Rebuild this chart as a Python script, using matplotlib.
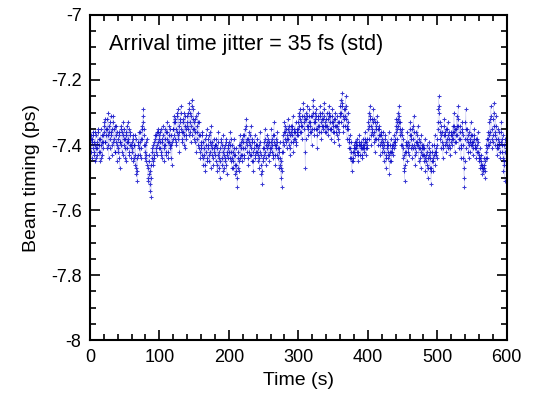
import numpy as np
import matplotlib.pyplot as plt
from matplotlib.ticker import MultipleLocator

plt.rcParams['font.family'] = ['Liberation Sans', 'DejaVu Sans']

# beam timing, samples on whole seconds (ps)
timing = [
    -7.40,-7.38,-7.42,-7.39,-7.41,-7.37,-7.43,-7.40,-7.36,-7.44,-7.39,-7.41,-7.35,-7.42,-7.45,-7.38,-7.40,-7.37,-7.43,-7.39,
    -7.36,-7.33,-7.39,-7.35,-7.41,-7.32,-7.37,-7.44,-7.34,-7.38,-7.31,-7.36,-7.40,-7.33,-7.39,-7.35,-7.42,-7.37,-7.34,-7.45,
    -7.38,-7.41,-7.36,-7.47,-7.39,-7.35,-7.42,-7.37,-7.33,-7.40,-7.38,-7.44,-7.36,-7.34,-7.41,-7.39,-7.35,-7.43,-7.37,-7.40,
    -7.39,-7.42,-7.37,-7.44,-7.40,-7.46,-7.38,-7.49,-7.51,-7.43,-7.39,-7.41,-7.36,-7.44,-7.38,-7.35,-7.33,-7.29,-7.37,-7.42,
    -7.40,-7.45,-7.38,-7.47,-7.50,-7.43,-7.52,-7.48,-7.56,-7.44,-7.41,-7.46,-7.39,-7.43,-7.37,-7.42,-7.36,-7.40,-7.35,-7.38,
    -7.37,-7.41,-7.35,-7.43,-7.39,-7.34,-7.40,-7.45,-7.38,-7.36,-7.42,-7.33,-7.39,-7.44,-7.37,-7.41,-7.35,-7.40,-7.46,-7.38,
    -7.35,-7.31,-7.38,-7.33,-7.40,-7.36,-7.30,-7.37,-7.34,-7.42,-7.32,-7.28,-7.36,-7.39,-7.33,-7.37,-7.30,-7.41,-7.35,-7.38,
    -7.34,-7.30,-7.37,-7.27,-7.33,-7.39,-7.31,-7.26,-7.35,-7.29,-7.38,-7.32,-7.36,-7.42,-7.34,-7.30,-7.40,-7.33,-7.37,-7.44,
    -7.39,-7.43,-7.36,-7.46,-7.41,-7.38,-7.48,-7.42,-7.35,-7.45,-7.40,-7.37,-7.43,-7.39,-7.47,-7.34,-7.41,-7.44,-7.38,-7.42,
    -7.40,-7.45,-7.38,-7.48,-7.43,-7.36,-7.44,-7.50,-7.41,-7.39,-7.46,-7.42,-7.37,-7.47,-7.40,-7.44,-7.38,-7.49,-7.43,-7.41,
    -7.39,-7.44,-7.36,-7.42,-7.47,-7.40,-7.45,-7.38,-7.43,-7.49,-7.41,-7.46,-7.53,-7.44,-7.40,-7.48,-7.37,-7.43,-7.39,-7.45,
    -7.41,-7.37,-7.44,-7.35,-7.39,-7.32,-7.42,-7.38,-7.46,-7.36,-7.43,-7.40,-7.34,-7.45,-7.39,-7.48,-7.41,-7.37,-7.44,-7.40,
    -7.42,-7.38,-7.45,-7.40,-7.47,-7.36,-7.43,-7.49,-7.52,-7.44,-7.39,-7.41,-7.35,-7.46,-7.40,-7.37,-7.43,-7.38,-7.45,-7.41,
    -7.39,-7.35,-7.42,-7.37,-7.44,-7.33,-7.40,-7.46,-7.38,-7.43,-7.36,-7.41,-7.47,-7.39,-7.44,-7.50,-7.53,-7.42,-7.37,-7.40,
    -7.33,-7.38,-7.35,-7.41,-7.37,-7.32,-7.40,-7.36,-7.43,-7.34,-7.39,-7.37,-7.31,-7.42,-7.36,-7.38,-7.33,-7.40,-7.35,-7.37,
    -7.33,-7.30,-7.36,-7.29,-7.34,-7.38,-7.31,-7.27,-7.35,-7.32,-7.47,-7.30,-7.34,-7.28,-7.37,-7.33,-7.29,-7.36,-7.31,-7.40,
    -7.31,-7.26,-7.33,-7.37,-7.30,-7.35,-7.29,-7.41,-7.34,-7.31,-7.36,-7.28,-7.33,-7.38,-7.30,-7.35,-7.32,-7.27,-7.36,-7.33,
    -7.34,-7.30,-7.37,-7.32,-7.28,-7.35,-7.31,-7.38,-7.33,-7.29,-7.36,-7.32,-7.39,-7.30,-7.34,-7.37,-7.31,-7.35,-7.40,-7.33,
    -7.30,-7.26,-7.33,-7.24,-7.31,-7.36,-7.29,-7.34,-7.25,-7.32,-7.38,-7.30,-7.35,-7.41,-7.37,-7.44,-7.39,-7.48,-7.42,-7.45,
    -7.41,-7.39,-7.43,-7.40,-7.38,-7.42,-7.45,-7.40,-7.37,-7.43,-7.39,-7.41,-7.44,-7.38,-7.42,-7.40,-7.36,-7.43,-7.39,-7.41,
    -7.35,-7.30,-7.38,-7.28,-7.34,-7.40,-7.32,-7.37,-7.29,-7.36,-7.42,-7.33,-7.38,-7.31,-7.35,-7.40,-7.34,-7.37,-7.43,-7.36,
    -7.38,-7.42,-7.36,-7.45,-7.40,-7.37,-7.47,-7.41,-7.39,-7.44,-7.36,-7.49,-7.42,-7.38,-7.45,-7.40,-7.43,-7.37,-7.41,-7.39,
    -7.36,-7.32,-7.38,-7.30,-7.34,-7.28,-7.37,-7.33,-7.40,-7.35,-7.44,-7.38,-7.47,-7.51,-7.42,-7.39,-7.45,-7.36,-7.41,-7.43,
    -7.37,-7.33,-7.41,-7.35,-7.44,-7.38,-7.31,-7.40,-7.46,-7.36,-7.42,-7.39,-7.34,-7.45,-7.38,-7.41,-7.47,-7.37,-7.43,-7.40,
    -7.41,-7.45,-7.38,-7.48,-7.43,-7.40,-7.50,-7.44,-7.39,-7.47,-7.42,-7.52,-7.45,-7.40,-7.48,-7.43,-7.37,-7.46,-7.41,-7.44,
    -7.38,-7.33,-7.25,-7.30,-7.36,-7.41,-7.34,-7.39,-7.44,-7.37,-7.32,-7.40,-7.35,-7.42,-7.38,-7.33,-7.41,-7.36,-7.43,-7.39,
    -7.36,-7.40,-7.34,-7.38,-7.30,-7.42,-7.35,-7.39,-7.31,-7.37,-7.28,-7.41,-7.34,-7.38,-7.44,-7.36,-7.33,-7.40,-7.47,-7.53,
    -7.38,-7.29,-7.41,-7.35,-7.39,-7.44,-7.36,-7.42,-7.33,-7.40,-7.37,-7.43,-7.39,-7.35,-7.41,-7.38,-7.44,-7.40,-7.36,-7.42,
    -7.45,-7.41,-7.47,-7.43,-7.49,-7.46,-7.48,-7.44,-7.50,-7.45,-7.42,-7.38,-7.44,-7.36,-7.40,-7.33,-7.39,-7.28,-7.35,-7.41,
    -7.37,-7.27,-7.34,-7.40,-7.31,-7.38,-7.43,-7.35,-7.41,-7.36,-7.44,-7.39,-7.33,-7.42,-7.37,-7.48,-7.40,-7.51,-7.38,-7.41,
]

# samples on the half seconds in between (ps)
timing_half = [
    -7.41,-7.37,-7.44,-7.38,-7.36,-7.42,-7.39,-7.45,-7.37,-7.41,-7.43,-7.36,-7.40,-7.38,-7.42,-7.35,-7.44,-7.39,-7.37,-7.41,
    -7.34,-7.39,-7.32,-7.37,-7.35,-7.40,-7.30,-7.36,-7.41,-7.33,-7.37,-7.43,-7.35,-7.31,-7.38,-7.42,-7.34,-7.39,-7.36,-7.40,
    -7.42,-7.37,-7.44,-7.39,-7.34,-7.40,-7.36,-7.43,-7.38,-7.35,-7.41,-7.37,-7.45,-7.39,-7.33,-7.38,-7.42,-7.36,-7.40,-7.44,
    -7.41,-7.38,-7.45,-7.40,-7.43,-7.37,-7.47,-7.44,-7.48,-7.40,-7.36,-7.43,-7.39,-7.41,-7.34,-7.38,-7.31,-7.35,-7.40,-7.44,
    -7.43,-7.39,-7.46,-7.51,-7.45,-7.49,-7.54,-7.46,-7.50,-7.42,-7.45,-7.40,-7.44,-7.38,-7.41,-7.37,-7.43,-7.39,-7.36,-7.41,
    -7.39,-7.36,-7.42,-7.38,-7.44,-7.37,-7.41,-7.35,-7.40,-7.43,-7.38,-7.36,-7.42,-7.39,-7.34,-7.40,-7.44,-7.37,-7.39,-7.35,
    -7.33,-7.37,-7.32,-7.39,-7.35,-7.31,-7.38,-7.29,-7.36,-7.33,-7.30,-7.35,-7.38,-7.32,-7.36,-7.40,-7.34,-7.31,-7.37,-7.33,
    -7.31,-7.35,-7.29,-7.36,-7.30,-7.34,-7.28,-7.37,-7.32,-7.35,-7.33,-7.39,-7.31,-7.38,-7.36,-7.33,-7.41,-7.37,-7.42,-7.40,
    -7.41,-7.37,-7.44,-7.39,-7.43,-7.46,-7.40,-7.37,-7.44,-7.41,-7.38,-7.45,-7.42,-7.36,-7.40,-7.43,-7.39,-7.46,-7.41,-7.40,
    -7.43,-7.40,-7.46,-7.41,-7.39,-7.47,-7.42,-7.45,-7.38,-7.44,-7.40,-7.48,-7.43,-7.41,-7.45,-7.39,-7.46,-7.42,-7.40,-7.44,
    -7.42,-7.40,-7.45,-7.38,-7.44,-7.42,-7.47,-7.41,-7.46,-7.43,-7.48,-7.50,-7.47,-7.42,-7.45,-7.40,-7.44,-7.41,-7.43,-7.38,
    -7.39,-7.43,-7.37,-7.41,-7.34,-7.38,-7.40,-7.44,-7.39,-7.42,-7.37,-7.41,-7.43,-7.38,-7.42,-7.45,-7.39,-7.43,-7.40,-7.42,
    -7.40,-7.43,-7.41,-7.44,-7.39,-7.42,-7.46,-7.48,-7.45,-7.41,-7.43,-7.38,-7.42,-7.44,-7.39,-7.41,-7.40,-7.43,-7.39,-7.42,
    -7.41,-7.38,-7.40,-7.43,-7.37,-7.39,-7.43,-7.41,-7.40,-7.39,-7.44,-7.42,-7.41,-7.46,-7.47,-7.45,-7.48,-7.39,-7.42,-7.36,
    -7.36,-7.34,-7.39,-7.38,-7.35,-7.38,-7.34,-7.41,-7.37,-7.36,-7.35,-7.34,-7.39,-7.38,-7.35,-7.36,-7.39,-7.37,-7.36,-7.35,
    -7.31,-7.34,-7.32,-7.33,-7.36,-7.34,-7.29,-7.33,-7.31,-7.42,-7.38,-7.32,-7.31,-7.34,-7.35,-7.31,-7.33,-7.34,-7.36,-7.35,
    -7.28,-7.30,-7.35,-7.33,-7.32,-7.31,-7.35,-7.37,-7.32,-7.34,-7.31,-7.30,-7.36,-7.34,-7.32,-7.34,-7.29,-7.31,-7.34,-7.36,
    -7.32,-7.34,-7.35,-7.30,-7.31,-7.33,-7.35,-7.35,-7.31,-7.33,-7.34,-7.36,-7.34,-7.32,-7.36,-7.34,-7.33,-7.38,-7.36,-7.31,
    -7.28,-7.30,-7.28,-7.27,-7.34,-7.32,-7.31,-7.29,-7.28,-7.35,-7.34,-7.33,-7.38,-7.39,-7.41,-7.42,-7.44,-7.45,-7.44,-7.42,
    -7.40,-7.41,-7.41,-7.39,-7.40,-7.43,-7.42,-7.39,-7.40,-7.41,-7.40,-7.43,-7.41,-7.40,-7.41,-7.38,-7.39,-7.41,-7.40,-7.38,
    -7.33,-7.34,-7.32,-7.31,-7.37,-7.36,-7.35,-7.33,-7.32,-7.39,-7.38,-7.35,-7.34,-7.33,-7.38,-7.37,-7.35,-7.40,-7.39,-7.37,
    -7.40,-7.39,-7.41,-7.42,-7.38,-7.43,-7.44,-7.40,-7.42,-7.40,-7.43,-7.45,-7.40,-7.42,-7.42,-7.41,-7.40,-7.39,-7.40,-7.38,
    -7.34,-7.35,-7.33,-7.32,-7.31,-7.33,-7.35,-7.36,-7.37,-7.40,-7.41,-7.43,-7.48,-7.46,-7.40,-7.42,-7.40,-7.39,-7.42,-7.40,
    -7.35,-7.37,-7.38,-7.40,-7.41,-7.34,-7.36,-7.43,-7.41,-7.39,-7.40,-7.37,-7.40,-7.41,-7.39,-7.44,-7.42,-7.40,-7.41,-7.43,
    -7.43,-7.41,-7.44,-7.45,-7.42,-7.46,-7.47,-7.41,-7.43,-7.44,-7.48,-7.47,-7.42,-7.44,-7.45,-7.40,-7.42,-7.43,-7.42,-7.40,
    -7.35,-7.29,-7.28,-7.33,-7.38,-7.37,-7.36,-7.41,-7.40,-7.34,-7.36,-7.37,-7.39,-7.40,-7.35,-7.37,-7.38,-7.40,-7.41,-7.37,
    -7.38,-7.37,-7.36,-7.34,-7.36,-7.39,-7.37,-7.35,-7.34,-7.32,-7.34,-7.38,-7.36,-7.41,-7.40,-7.35,-7.37,-7.44,-7.50,-7.45,
    -7.33,-7.35,-7.38,-7.37,-7.42,-7.40,-7.39,-7.38,-7.37,-7.39,-7.40,-7.41,-7.37,-7.38,-7.40,-7.41,-7.42,-7.38,-7.39,-7.44,
    -7.43,-7.44,-7.45,-7.46,-7.47,-7.47,-7.46,-7.47,-7.48,-7.44,-7.40,-7.41,-7.40,-7.38,-7.37,-7.36,-7.32,-7.31,-7.38,-7.39,
    -7.32,-7.30,-7.37,-7.36,-7.34,-7.41,-7.40,-7.38,-7.39,-7.40,-7.42,-7.36,-7.38,-7.40,-7.44,-7.45,-7.46,-7.42,-7.39,-7.40,
]

# interleave the two sample sets into one time series
time = np.arange(0, 600, 0.5)
beam = np.empty(len(time))
beam[0::2] = timing
beam[1::2] = timing_half

fig = plt.figure(figsize=(5.38, 4.04), dpi=100)
ax = fig.add_axes([0.167, 0.158, 0.775, 0.805])

ax.plot(time, beam, color='#1010c8', lw=0.3, alpha=0.25)
ax.plot(time, beam, ls='none', marker='+', ms=3.2, mew=0.75, color='#0a0ac8', alpha=0.8)

ax.set_xlim(0, 600)
ax.set_ylim(-8, -7)
ax.xaxis.set_major_locator(MultipleLocator(100))
ax.xaxis.set_minor_locator(MultipleLocator(20))
ax.yaxis.set_major_locator(MultipleLocator(0.2))
ax.yaxis.set_minor_locator(MultipleLocator(0.05))
ax.yaxis.set_major_formatter(plt.FuncFormatter(lambda v, p: '%g' % round(v, 1)))

ax.tick_params(which='both', direction='in', top=True, right=True, labelsize=13, width=1.2)
ax.tick_params(which='major', length=7, pad=6)
ax.tick_params(which='minor', length=4)
for s in ax.spines.values():
    s.set_linewidth(1.5)

ax.set_xlabel('Time (s)', fontsize=14, labelpad=5)
ax.set_ylabel('Beam timing (ps)', fontsize=14, labelpad=8)
ax.text(0.045, 0.91, 'Arrival time jitter = 35 fs (std)', transform=ax.transAxes,
        fontsize=15.5, va='center', ha='left')

fig.savefig('out.png', dpi=100)
